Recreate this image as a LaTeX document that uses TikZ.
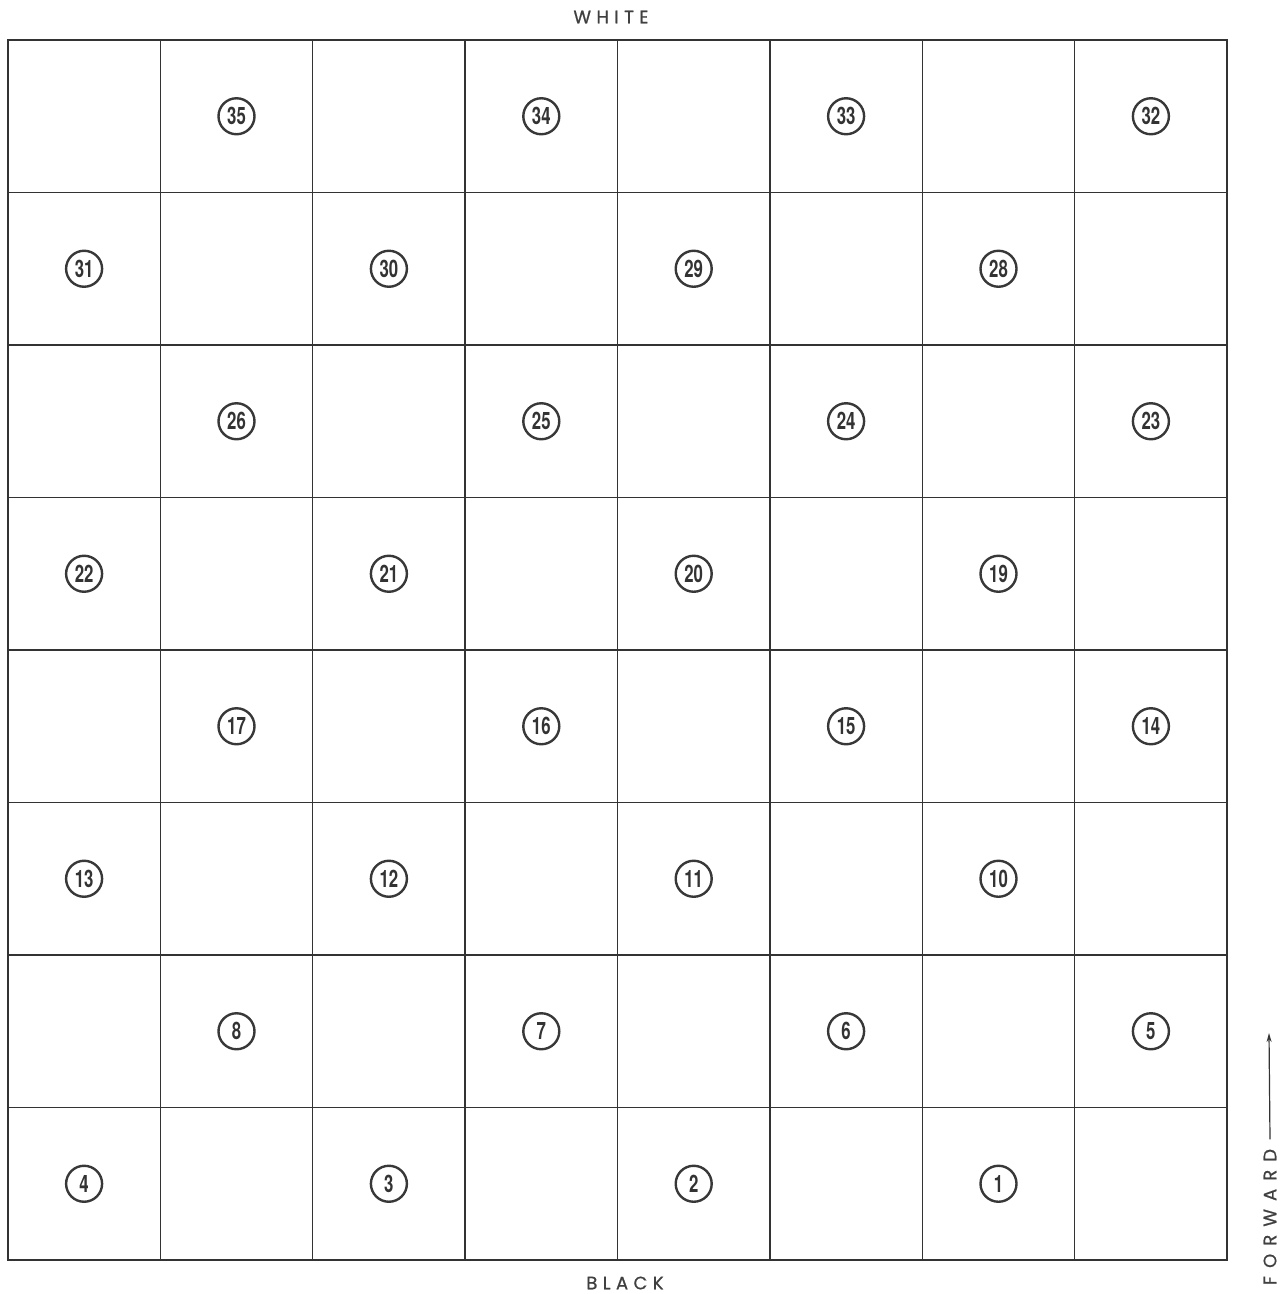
\documentclass[tikz,border=0pt]{standalone}
\usepackage{fontspec}
\usetikzlibrary{positioning,arrows.meta,matrix}
\newfontfamily\numfont[FakeStretch=0.7]{TeX Gyre Heros}
\newfontfamily\labelfont[LetterSpace=30,FakeBold=0.8]{Poppins}
\newfontfamily\widelabelfont[LetterSpace=45,FakeBold=0.8]{Poppins}

\begin{document}
\begin{tikzpicture}[x=1pt,y=-1pt,
  numcirc/.style={draw=black!78, circle, line width=2.4pt, minimum size=36pt, inner sep=0pt,
    font=\numfont\bfseries\fontsize{24}{24}\selectfont, text=black!80},
  sidelabel/.style={font=\labelfont\fontsize{18}{18}\selectfont, text=black!75}]
\useasboundingbox (0,0) rectangle (1285,1294);
\matrix (board) at (617.5,650) [
  matrix of nodes, nodes in empty cells,
  nodes={draw=black!80, line width=1.5pt, minimum width=152.4pt, minimum height=152.5pt,
    inner sep=0pt, outer sep=0pt, anchor=center},
  row sep=-1.5pt, column sep=-1.5pt
]{
  & & & & & & & \\
  & & & & & & & \\
  & & & & & & & \\
  & & & & & & & \\
  & & & & & & & \\
  & & & & & & & \\
  & & & & & & & \\
  & & & & & & & \\
};
% numbered squares
\foreach \r/\c/\n in {1/2/35, 1/4/34, 1/6/33, 1/8/32,
                      2/1/31, 2/3/30, 2/5/29, 2/7/28,
                      3/2/26, 3/4/25, 3/6/24, 3/8/23,
                      4/1/22, 4/3/21, 4/5/20, 4/7/19,
                      5/2/17, 5/4/16, 5/6/15, 5/8/14,
                      6/1/13, 6/3/12, 6/5/11, 6/7/10,
                      7/2/8, 7/4/7, 7/6/6, 7/8/5,
                      8/1/4, 8/3/3, 8/5/2, 8/7/1}
  \node[numcirc] (sq\n) at (board-\r-\c) {\n};
\node[sidelabel] (white) at (611,17) {WHITE};
\node[sidelabel] (black) at (625,1283) {BLACK};
\node[sidelabel, font=\widelabelfont\fontsize{18}{18}\selectfont, rotate=90] (forward) at (1270,1217) {FORWARD};
\coordinate (fwdtip) at (1269,1033);
\draw[-{Stealth[length=9pt,width=5pt]}, line width=1.2pt, black!80] ([yshift=6pt]forward.east) -- (fwdtip);
\end{tikzpicture}
\end{document}
